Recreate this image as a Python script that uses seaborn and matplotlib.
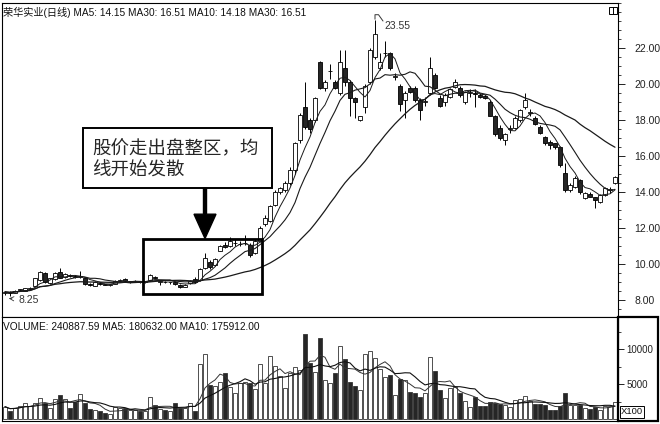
import numpy as np
import pandas as pd
import matplotlib.pyplot as plt
import seaborn as sns
from matplotlib.patches import Rectangle
from matplotlib.ticker import MultipleLocator, FixedLocator

# Daily candles (open, high, low, close), volume in x100 shares
opens = [8.40, 8.45, 8.42, 8.55, 8.52, 8.62, 8.80, 9.10, 9.50, 8.95,
         9.15, 9.55, 9.30, 9.40, 9.35, 9.30, 9.20, 8.90, 8.80, 8.95,
         8.90, 8.85, 8.90, 9.05, 9.15, 9.00, 9.00, 9.02, 9.00, 9.10,
         9.30, 9.00, 9.00, 8.98, 9.00, 8.85, 8.75, 8.95, 9.15, 9.10,
         9.80, 10.10, 9.95, 10.75, 11.05, 11.00, 11.15, 11.10, 11.15, 11.05,
         10.60, 11.30, 12.20, 12.40, 13.30, 14.00, 14.10, 14.50, 15.20, 16.90,
         18.70, 18.00, 18.00, 21.20, 19.80, 20.70, 20.10, 19.50, 20.90, 20.10,
         19.20, 18.00, 18.70, 20.10, 21.50, 20.90, 21.70, 21.70, 20.40, 19.90,
         19.10, 19.80, 19.80, 19.10, 19.00, 19.50, 20.50, 19.20, 19.00, 19.30,
         19.85, 19.80, 19.00, 19.50, 19.50, 19.40, 19.35, 19.00, 18.20, 17.55,
         16.90, 17.50, 17.55, 18.00, 18.70, 18.40, 18.10, 17.60, 17.05, 16.80,
         16.70, 16.50, 15.05, 14.10, 14.30, 14.65, 13.65, 13.90, 13.70, 13.45,
         13.85, 14.10, 14.50]
highs = [8.50, 8.50, 8.55, 8.62, 8.68, 8.75, 9.25, 9.60, 9.55, 9.25,
         9.55, 9.80, 9.50, 9.45, 9.40, 9.60, 9.25, 8.95, 9.05, 9.00,
         8.92, 8.90, 9.10, 9.15, 9.20, 9.05, 9.10, 9.05, 9.05, 9.45,
         9.35, 9.05, 9.05, 9.02, 9.05, 8.90, 8.90, 9.10, 9.30, 9.80,
         10.60, 10.20, 10.35, 11.05, 11.20, 11.50, 11.40, 11.30, 11.60, 11.15,
         11.40, 12.10, 12.70, 13.30, 14.10, 14.30, 14.60, 15.40, 16.80, 18.40,
         20.10, 18.10, 19.30, 21.30, 20.20, 21.10, 20.20, 21.90, 21.90, 20.20,
         19.30, 18.25, 20.00, 22.00, 23.55, 21.70, 22.40, 21.80, 20.60, 20.00,
         19.60, 19.90, 19.90, 19.20, 19.30, 21.50, 20.60, 19.40, 19.50, 19.80,
         20.30, 19.90, 19.60, 19.70, 19.70, 19.50, 19.40, 19.10, 18.30, 17.70,
         17.30, 17.70, 18.20, 18.60, 19.50, 18.60, 18.20, 17.70, 17.10, 16.90,
         16.75, 16.55, 15.60, 14.50, 14.90, 14.70, 14.00, 14.00, 13.75, 13.90,
         14.30, 14.30, 14.90]
lows = [8.30, 8.25, 8.38, 8.48, 8.50, 8.55, 8.75, 9.05, 8.95, 8.90,
        9.10, 9.20, 9.25, 9.30, 9.25, 9.25, 8.85, 8.80, 8.78, 8.85,
        8.82, 8.80, 8.88, 9.00, 9.00, 8.95, 8.98, 8.95, 8.95, 9.05,
        9.20, 8.85, 8.95, 8.90, 8.85, 8.65, 8.70, 8.90, 8.95, 9.05,
        9.75, 9.75, 9.90, 10.70, 10.90, 10.95, 11.00, 11.00, 11.05, 10.40,
        10.55, 11.25, 12.10, 12.35, 13.20, 13.90, 14.00, 14.40, 15.00, 16.70,
        17.50, 17.30, 17.90, 19.70, 19.60, 20.30, 19.70, 19.40, 19.90, 18.20,
        18.10, 17.95, 18.40, 20.00, 21.40, 20.80, 21.50, 20.80, 20.20, 18.50,
        18.10, 19.50, 19.00, 18.00, 18.80, 19.40, 19.70, 18.70, 18.80, 19.20,
        19.80, 19.30, 18.90, 19.30, 18.70, 19.20, 19.15, 18.20, 17.10, 16.90,
        16.60, 17.30, 17.50, 17.90, 18.60, 18.20, 17.70, 17.20, 16.60, 16.40,
        16.40, 15.40, 14.00, 14.00, 14.20, 13.90, 13.60, 13.70, 13.10, 13.40,
        13.80, 13.95, 14.45]
closes = [8.45, 8.40, 8.52, 8.55, 8.65, 8.62, 9.20, 9.55, 9.00, 9.20,
          9.50, 9.25, 9.45, 9.35, 9.30, 9.30, 8.90, 8.85, 9.00, 8.90,
          8.85, 8.86, 9.05, 9.10, 9.05, 9.00, 9.05, 9.00, 9.00, 9.40,
          9.25, 9.00, 8.98, 8.98, 8.90, 8.75, 8.85, 9.05, 9.00, 9.75,
          10.35, 9.85, 10.30, 11.00, 10.95, 11.30, 11.15, 11.12, 11.15, 10.50,
          11.30, 12.00, 12.55, 13.20, 14.00, 14.20, 14.50, 15.20, 16.70, 18.30,
          17.60, 17.50, 19.20, 19.80, 20.10, 20.70, 19.80, 21.20, 20.10, 19.20,
          19.00, 18.20, 19.90, 21.90, 22.80, 21.20, 21.70, 20.90, 20.40, 18.90,
          19.50, 19.55, 19.10, 18.55, 19.00, 20.90, 19.80, 18.80, 19.40, 19.70,
          20.10, 19.40, 19.55, 19.50, 19.45, 19.30, 19.20, 18.20, 17.20, 17.00,
          17.20, 17.50, 18.10, 18.55, 19.10, 18.40, 17.80, 17.30, 16.70, 16.60,
          16.50, 15.50, 14.10, 14.40, 14.80, 14.00, 13.95, 13.75, 13.55, 13.85,
          14.20, 14.15, 14.85]
volume = [1800, 1230, 1620, 1950, 2370, 1950, 2290, 3000, 2290, 1570,
          2860, 3430, 2860, 1660, 2520, 3570, 2370, 1520, 1330, 1190,
          860, 760, 1710, 1570, 1660, 1330, 1330, 1190, 1230, 3240,
          2050, 1430, 1330, 1190, 2370, 1570, 1570, 2370, 1230, 7860,
          9300, 4900, 4760, 5380, 6570, 4670, 3810, 5140, 5340, 5140,
          4300, 7910, 5240, 9050, 7620, 6190, 4520, 6570, 7520, 7050,
          12200, 8100, 6720, 11620, 5620, 5140, 6570, 10480, 8580, 5380,
          4760, 4190, 9300, 9770, 8720, 7150, 6100, 6330, 3480, 5720,
          5620, 3950, 3720, 3240, 3720, 8820, 6950, 4190, 3000, 4430,
          4570, 3810, 2620, 1800, 3140, 1900, 1900, 2520, 2370, 2140,
          2050, 1800, 2760, 2860, 3330, 2670, 2190, 2190, 2050, 1380,
          1330, 1950, 3720, 2050, 2050, 2050, 1570, 1430, 1800, 1330,
          1950, 1950, 2409]

df = pd.DataFrame({'open': opens, 'high': highs, 'low': lows,
                   'close': closes, 'volume': volume})
df['day'] = np.arange(len(df))
df['ma5'] = df['close'].rolling(5, min_periods=1).mean()
df['ma10'] = df['close'].rolling(10, min_periods=1).mean()
df['ma30'] = df['close'].rolling(30, min_periods=1).mean()
df['vma5'] = df['volume'].rolling(5, min_periods=1).mean()
df['vma10'] = df['volume'].rolling(10, min_periods=1).mean()
up = df['close'] >= df['open']

sns.set_style('white')
plt.rcParams['font.family'] = ['Liberation Sans', 'Noto Sans CJK SC', 'DejaVu Sans']

W, H = 660, 424
fig = plt.figure(figsize=(W / 100, H / 100), dpi=100)
ax = fig.add_axes([2 / W, 1 - 317 / H, 616 / W, 314 / H])
axv = fig.add_axes([2 / W, 3 / H, 616 / W, 104 / H])

dark = '#262626'

# price panel
ax.vlines(df['day'], df['low'], df['high'], color='black', lw=0.7, zorder=2)
body = (df['close'] - df['open']).abs().clip(lower=0.04)
bottom = df[['open', 'close']].min(axis=1)
ax.bar(df['day'], body, bottom=bottom, width=0.72,
       color=np.where(up, 'white', dark), edgecolor='black', lw=0.6, zorder=3)
for col, lw in [('ma5', 0.7), ('ma10', 0.8), ('ma30', 0.9)]:
    sns.lineplot(x=df['day'], y=df[col], ax=ax, color='#1a1a1a', lw=lw,
                 legend=False, zorder=4)

ax.set_xlim(-0.6, 122.6)
ax.set_ylim(7.06, 24.5)
ax.set_xticks([])
ax.set_xlabel('')
ax.set_ylabel('')
ax.yaxis.tick_right()
ax.yaxis.set_major_locator(FixedLocator([8, 10, 12, 14, 16, 18, 20, 22]))
ax.yaxis.set_minor_locator(MultipleLocator(0.5))
ax.set_yticklabels([f'{v:.2f}' for v in [8, 10, 12, 14, 16, 18, 20, 22]])
ax.tick_params(axis='y', which='major', direction='out', length=5, width=0.7,
               pad=7, labelsize=7.5, colors='#222')
ax.tick_params(axis='y', which='minor', direction='out', length=2.5, width=0.6)
for s in ax.spines.values():
    s.set_color('black')
    s.set_linewidth(0.8)

ax.text(0.002, 0.988, '荣华实业(日线) MA5: 14.15 MA30: 16.51 MA10: 14.18 MA30: 16.51',
        transform=ax.transAxes, ha='left', va='top', fontsize=7.3, color='#111')

# annotation box and arrow
ax.add_patch(Rectangle((15.6, 14.22), 37.8, 3.34, fill=False, lw=1.4,
                       edgecolor='black', zorder=5))
ax.text(17.4, 15.78, '股价走出盘整区，均\n线开始发散', ha='left', va='center',
        fontsize=13.3, linespacing=1.25, family=['Noto Sans CJK SC'], zorder=6)
ax.arrow(40, 14.22, 0, -2.8, width=0.6, head_width=4.4, head_length=1.35,
         length_includes_head=True, color='black', zorder=6)
ax.add_patch(Rectangle((27.6, 8.33), 23.8, 3.06, fill=False, lw=2.0,
                       edgecolor='black', zorder=5))

# high / low markers
ax.plot([74, 74, 74.7, 75.6], [23.6, 23.85, 23.85, 23.5], color='#333', lw=0.7)
ax.text(75.9, 23.25, '23.55', fontsize=7.5, color='#333', va='center')
ax.annotate('8.25', xy=(0.2, 8.1), xytext=(2.6, 8.02), fontsize=7.5, color='#333',
            va='center', arrowprops=dict(arrowstyle='->', lw=0.6, color='#333'))

# volume panel
axv.bar(df['day'], df['volume'], width=0.72,
        color=np.where(up, 'white', dark), edgecolor='#333', lw=0.6)
sns.lineplot(x=df['day'], y=df['vma5'], ax=axv, color='#333', lw=0.7, legend=False)
sns.lineplot(x=df['day'], y=df['vma10'], ax=axv, color='#111', lw=0.8, legend=False)
axv.set_xlim(-0.6, 122.6)
axv.set_ylim(-250, 14600)
axv.set_xticks([])
axv.set_xlabel('')
axv.set_ylabel('')
axv.yaxis.tick_right()
axv.yaxis.set_major_locator(FixedLocator([5000, 10000]))
axv.yaxis.set_minor_locator(FixedLocator([2500, 7500, 12500]))
axv.set_yticklabels(['5000', '10000'])
axv.tick_params(axis='y', which='major', direction='out', length=4, width=0.7,
                pad=2, labelsize=7, colors='#222')
axv.tick_params(axis='y', which='minor', direction='out', length=2, width=0.6)
for s in axv.spines.values():
    s.set_color('black')
    s.set_linewidth(0.8)
axv.text(0.002, 0.95, 'VOLUME: 240887.59 MA5: 180632.00 MA10: 175912.00',
         transform=axv.transAxes, ha='left', va='top', fontsize=7.3, color='#111')

# right side frames
fig.patches.append(Rectangle((618 / W, 3 / H), 40 / W, 104 / H, fill=False,
                             lw=1.6, edgecolor='black', transform=fig.transFigure))
fig.patches.append(Rectangle((620 / W, 6 / H), 24 / W, 12 / H, fill=False,
                             lw=0.7, edgecolor='black', transform=fig.transFigure))
fig.text(632 / W, 12 / H, 'X100', ha='center', va='center', fontsize=6.8, color='#111')
fig.patches.append(Rectangle((609 / W, 1 - 14 / H), 8 / W, 7 / H, fill=False,
                             lw=0.7, edgecolor='black', transform=fig.transFigure))
fig.lines.append(plt.Line2D([613 / W, 613 / W], [1 - 14 / H, 1 - 7 / H],
                            lw=0.7, color='black', transform=fig.transFigure))

fig.savefig('out.png', dpi=100)
